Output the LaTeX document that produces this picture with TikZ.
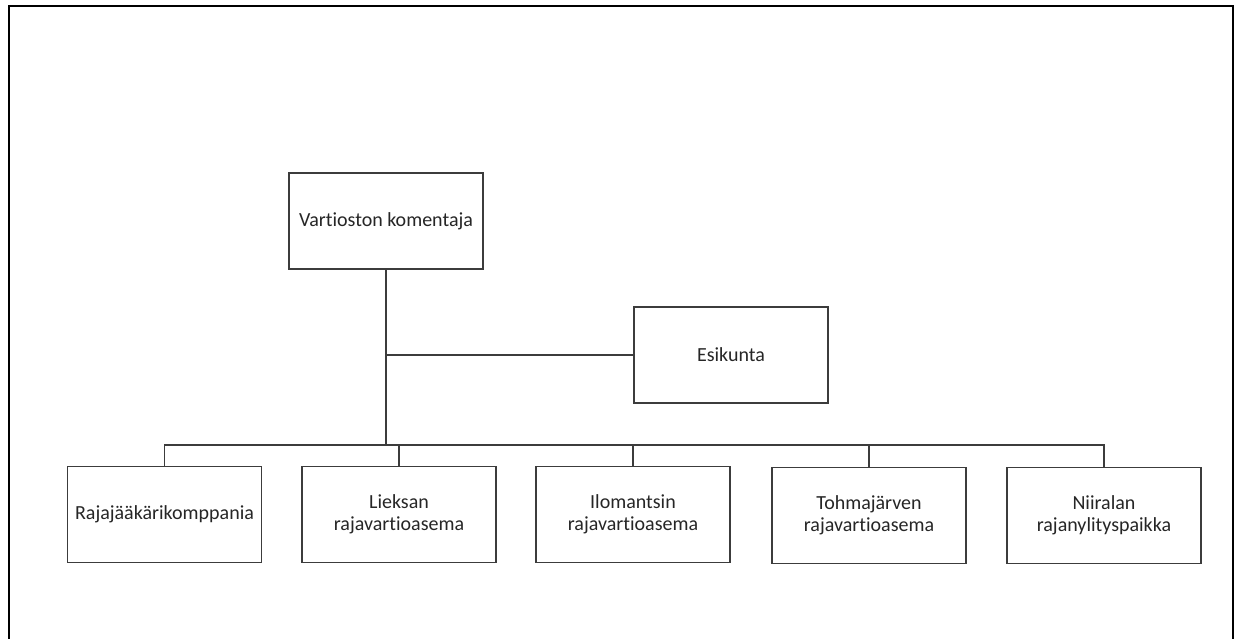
\documentclass[tikz,border=0pt]{standalone}
\usepackage{fontspec}
\setmainfont{Carlito}[RawFeature={-liga;-clig;-dlig}]
\begin{document}
\begin{tikzpicture}[x=1pt,y=-1pt,
  orgbox/.style={draw=boxgray, line width=1.4pt, fill=white, minimum width=194pt,
    minimum height=96pt, align=center, inner sep=2pt,
    font=\fontsize{20}{22}\selectfont, text=black!85},
  link/.style={draw=boxgray, line width=1.3pt},
  mainlink/.style={draw=black!85, line width=2pt}]
\definecolor{boxgray}{HTML}{3C3C3C}
\useasboundingbox (0,0) rectangle (1240,639);
\begin{scope}
  \clip (0,0) rectangle (1240,639);
  \draw[black, line width=2pt] (8.5,6.5) rectangle (1233,660);
\end{scope}

% top of the hierarchy and staff
\node[orgbox] (cmd) at (386,221) {Vartioston komentaja};
\node[orgbox] (esk) at (731,355) {Esikunta};

% subordinate units
\node[orgbox] (raja) at (164.5,514.5) {Rajajääkärikomppania};
\node[orgbox] (lie)  at (399,514.5) {Lieksan\\rajavartioasema};
\node[orgbox] (ilo)  at (633,514.5) {Ilomantsin\\rajavartioasema};
\node[orgbox] (toh)  at (869,515.5) {Tohmajärven\\rajavartioasema};
\node[orgbox] (nii)  at (1104,515.5) {Niiralan\\rajanylityspaikka};

\coordinate (hub) at (386,445);

% connectors
\draw[link] (cmd.south) -- (hub);
\draw[link] (cmd.south) |- (esk.west);
\draw[link] (hub) -| (raja.north);
\draw[link] (hub) -| (lie.north);
\draw[mainlink] (hub) -- (hub -| ilo.north);
\draw[link] (hub) -| (ilo.north);
\draw[link] (hub) -| (toh.north);
\draw[link] (hub) -| (nii.north);
\end{tikzpicture}
\end{document}
